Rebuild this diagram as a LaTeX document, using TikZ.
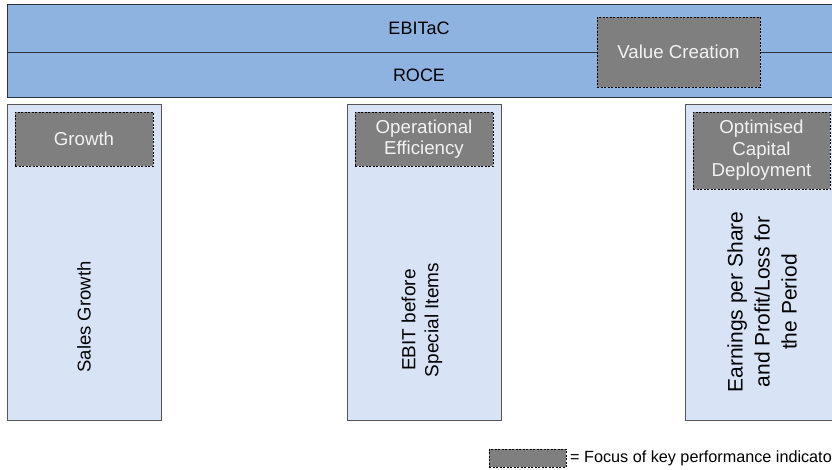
\documentclass[tikz,border=0pt]{standalone}
\usepackage{fontspec}
\setmainfont{Liberation Sans}
\definecolor{barblue}{HTML}{8FB3E0}
\definecolor{colblue}{HTML}{D8E3F5}
\definecolor{focusgray}{HTML}{7F7F7F}
\definecolor{edgedark}{HTML}{2B3440}
\definecolor{edgecol}{HTML}{555555}
\definecolor{focustext}{HTML}{F2F2F2}
\tikzset{
  barbox/.style={draw=edgedark, line width=1pt, fill=barblue, anchor=north west, inner sep=0pt},
  colbox/.style={draw=edgecol, line width=0.9pt, fill=colblue, anchor=north west, inner sep=0pt},
  focusbox/.style={draw=black, line width=0.8pt, dash pattern=on 2pt off 1.5pt, fill=focusgray,
     text=focustext, align=center, inner sep=0pt, font=\fontsize{18.7}{21.5}\selectfont},
  bartext/.style={font=\fontsize{18}{21}\selectfont, text=black, inner sep=0pt},
  kpitext/.style={rotate=90, align=center, inner sep=0pt, text=black},
  legendtext/.style={font=\fontsize{16.2}{19}\selectfont, anchor=west, inner sep=0pt}
}
\begin{document}
\begin{tikzpicture}[x=1pt, y=-1pt]
\useasboundingbox (0,0) rectangle (832,469);
\clip (0,0) rectangle (832,469);
% top bars
\node[barbox, minimum width=840pt, minimum height=48pt] (ebitacbar) at (7,4) {};
\node[barbox, minimum width=840pt, minimum height=45pt] (rocebar) at (7,52) {};
\node[bartext] (ebitac) at (419,28) {EBITaC};
\node[bartext] (roce) at (419,75) {ROCE};
\node[focusbox, minimum width=163pt, minimum height=70pt] (value) at (678.5,52) {Value Creation};
% columns
\node[colbox, minimum width=154pt, minimum height=316pt] (col1) at (7,104) {};
\node[colbox, minimum width=154pt, minimum height=316pt] (col2) at (347,104) {};
\node[colbox, minimum width=154pt, minimum height=316pt] (col3) at (685,104) {};
% focus boxes
\node[focusbox, minimum width=138pt, minimum height=54pt] (growth) at (84,139) {Growth};
\node[focusbox, minimum width=138pt, minimum height=54pt] (opeff) at (424,139) {Operational\\Efficiency};
\node[focusbox, minimum width=137pt, minimum height=77pt] (optcap) at (761.5,150.5) {Optimised\\Capital\\Deployment};
% KPI texts
\node[kpitext, font=\fontsize{18.5}{23}\selectfont] (sales) at (84,317) {Sales Growth};
\node[kpitext, font=\fontsize{19}{23}\selectfont] (ebit) at (422,320) {EBIT before\\Special Items};
\node[kpitext, font=\fontsize{21}{27}\selectfont] (eps) at (762,302) {Earnings per Share\\and Profit/Loss for\\the Period};
% legend
\node[focusbox, minimum width=77pt, minimum height=18pt] (legbox) at (527.5,458) {};
\node[legendtext] (legtext) at (570,458) {= Focus of key performance indicato};
\end{tikzpicture}
\end{document}
